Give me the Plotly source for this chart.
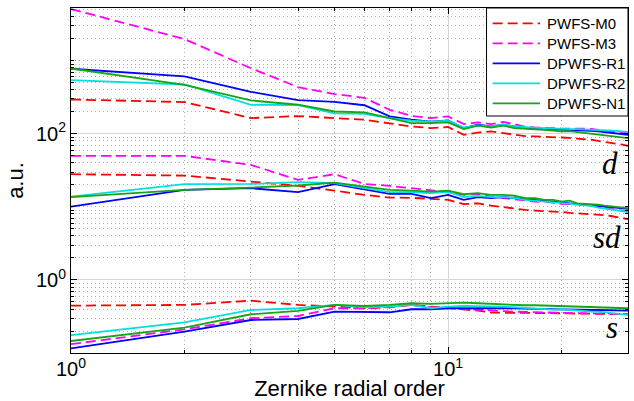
import plotly.graph_objects as go

orders = list(range(1, 31))

# ---- "d" group ----
m0_d = [295, 272, 164, 175, 164, 156, 139, 126, 120, 124, 97, 104, 108, 102, 99,
        93, 92, 91, 90, 90, 88, 86, 85, 83, 80, 78, 75, 73, 71, 68.5]
m3_d = [5100, 1980, 790, 436, 350, 311, 213, 176, 164, 173, 136, 143, 136, 145, 136,
        124, 122, 122, 120, 118, 117, 117, 116, 117, 113, 111, 108, 105, 104, 102]
r1_d = [777, 610, 376, 290, 274, 246, 173, 156, 147, 152, 120, 133, 126, 133, 126,
        120, 118, 117, 115, 113, 112, 112, 111, 110, 108, 106, 103, 101, 99, 97]
r2_d = [544, 473, 250, 247, 190, 188, 164, 151, 147, 151, 122, 130, 126, 133, 126,
        122, 121, 120, 118, 117, 116, 116, 115, 115, 113, 112, 111, 110, 108, 106]
n1_d = [784, 469, 286, 250, 202, 197, 164, 140, 140, 143, 116, 129, 122, 129, 120,
        116, 115, 113, 111, 108, 109, 106, 103, 101, 97, 95, 93, 91, 89, 87]

# ---- "sd" group ----
m0_sd = [28.0, 26.8, 22.2, 19.4, 16.7, 14.6, 13.4, 13.3, 12.9, 12.5, 10.9, 11.2, 10.4, 9.9, 9.4,
         9.1, 8.9, 8.8, 8.6, 8.5, 8.3, 8.2, 8.1, 8.0, 7.9, 7.7, 7.5, 7.2, 7.0, 6.8]
m3_sd = [49.9, 49.9, 37.6, 23.4, 28.0, 20.6, 19.4, 18.0, 16.7, 15.9, 14.6, 15.1, 13.8, 13.2, 12.8,
         12.2, 11.8, 11.8, 11.3, 11.0, 10.9, 10.9, 10.7, 10.4, 10.1, 9.8, 9.5, 9.2, 8.9, 8.6]
r1_sd = [10.1, 17.1, 18.0, 15.9, 20.5, 17.5, 15.1, 15.1, 13.2, 14.6, 12.5, 13.6, 13.2, 13.6, 13.2,
         12.8, 12.5, 12.2, 12.0, 11.5, 11.2, 11.0, 10.8, 10.6, 10.3, 10.1, 9.9, 9.7, 9.5, 9.4]
r2_sd = [13.8, 20.5, 20.6, 21.8, 21.1, 18.0, 15.9, 15.9, 15.4, 16.0, 13.6, 14.1, 13.6, 13.6, 13.2,
         12.5, 12.2, 11.8, 11.6, 11.2, 11.0, 10.8, 10.5, 10.3, 9.8, 9.5, 9.2, 8.9, 8.7, 8.5]
n1_sd = [13.6, 17.1, 18.4, 19.6, 21.5, 19.0, 17.1, 16.7, 16.2, 16.7, 14.9, 15.4, 14.6, 14.6, 14.2,
         13.2, 13.2, 12.5, 12.5, 11.8, 12.2, 11.2, 11.1, 11.0, 10.7, 10.4, 10.2, 10.0, 9.8, 9.6]

# ---- "s" group ----
m0_s = [0.445, 0.455, 0.52, 0.455, 0.431, 0.41, 0.423, 0.455, 0.431, 0.41, 0.401, 0.38, 0.357, 0.357, 0.356,
        0.356, 0.353, 0.353, 0.35, 0.35, 0.348, 0.346, 0.345, 0.342, 0.342, 0.341, 0.339, 0.339, 0.339, 0.339]
m3_s = [0.132, 0.211, 0.299, 0.321, 0.41, 0.41, 0.431, 0.455, 0.423, 0.41, 0.401, 0.388, 0.38, 0.373, 0.368,
        0.365, 0.361, 0.357, 0.353, 0.357, 0.353, 0.35, 0.35, 0.349, 0.349, 0.346, 0.345, 0.345, 0.342, 0.342]
r1_s = [0.116, 0.196, 0.283, 0.292, 0.368, 0.368, 0.361, 0.397, 0.397, 0.41, 0.41, 0.417, 0.414, 0.41, 0.41,
        0.405, 0.401, 0.401, 0.397, 0.397, 0.392, 0.392, 0.388, 0.388, 0.388, 0.385, 0.385, 0.38, 0.38, 0.38]
r2_s = [0.176, 0.263, 0.388, 0.41, 0.455, 0.423, 0.431, 0.455, 0.41, 0.431, 0.44, 0.44, 0.436, 0.431, 0.423,
        0.414, 0.405, 0.397, 0.392, 0.397, 0.388, 0.38, 0.373, 0.368, 0.368, 0.361, 0.353, 0.346, 0.339, 0.332]
n1_s = [0.146, 0.222, 0.339, 0.376, 0.455, 0.44, 0.455, 0.48, 0.469, 0.48, 0.489, 0.48, 0.469, 0.465, 0.455,
        0.45, 0.45, 0.445, 0.44, 0.44, 0.436, 0.431, 0.427, 0.423, 0.423, 0.417, 0.417, 0.414, 0.414, 0.41]

series_names = ["PWFS-M0", "PWFS-M3", "DPWFS-R1", "DPWFS-R2", "DPWFS-N1"]
groups = {
    "d": [m0_d, m3_d, r1_d, r2_d, n1_d],
    "sd": [m0_sd, m3_sd, r1_sd, r2_sd, n1_sd],
    "s": [m0_s, m3_s, r1_s, r2_s, n1_s],
}
group_labels = ["d", "sd", "s"]
x_major = [1, 10]
x_major_text = ["10<sup>0</sup>", "10<sup>1</sup>"]
y_major = [1, 100]
y_major_text = ["10<sup>0</sup>", "10<sup>2</sup>"]

colors = ["#ff0000", "#ff00ff", "#0000ff", "#00e0e0", "#16a516"]
dashes = ["10px,5px", "10px,5px", "solid", "solid", "solid"]

fig = go.Figure()
for gi, (gname, vals) in enumerate(groups.items()):
    for i, name in enumerate(series_names):
        fig.add_trace(go.Scatter(
            x=orders, y=vals[i], mode="lines", name=name,
            legendgroup=name, showlegend=False,
            line=dict(color=colors[i], width=1.8, dash=dashes[i]),
        ))

font_family = "Liberation Sans, Arial, sans-serif"

x_minor = [2, 3, 4, 5, 6, 7, 8, 9, 20, 30]
y_minor = ([k / 10 for k in range(2, 10)] + list(range(2, 10)) + [10] +
           list(range(20, 100, 10)) + list(range(200, 1000, 100)) + [1000, 2000, 3000, 4000, 5000])

axis_common = dict(
    type="log", showline=True, linecolor="black", linewidth=1, mirror="allticks",
    ticks="inside", ticklen=6, tickcolor="black", tickwidth=1,
    showgrid=True, gridcolor="#d6d6d6", gridwidth=1,
    tickfont=dict(family=font_family, size=20, color="black"),
    zeroline=False, automargin=True,
)

fig.update_xaxes(
    **axis_common,
    range=[0, 1.47712],
    tickmode="array", tickvals=x_major, ticktext=x_major_text,
    ticklabelstandoff=-2,
    minor=dict(tickmode="array", tickvals=x_minor, ticks="inside", ticklen=3,
               tickcolor="black", showgrid=True, gridcolor="#b0b0b0", griddash="1px,3px"),
    title=dict(text="Zernike radial order", font=dict(family=font_family, size=22, color="black"),
               standoff=3),
)
fig.update_yaxes(
    **axis_common,
    range=[-1.0, 3.722],
    tickmode="array", tickvals=y_major, ticktext=y_major_text,
    minor=dict(tickmode="array", tickvals=y_minor, ticks="inside", ticklen=3,
               tickcolor="black", showgrid=True, gridcolor="#b0b0b0", griddash="1px,3px"),
    title=dict(text="a.u.", font=dict(family=font_family, size=22, color="black"), standoff=6),
)

# group labels (italic serif letters at the right edge)
for txt, px, py in zip(group_labels, [0.967, 0.962, 0.972], [0.548, 0.334, 0.073]):
    fig.add_annotation(
        text="<i>%s</i>" % txt, xref="paper", yref="paper", x=px, y=py,
        xanchor="center", yanchor="middle", showarrow=False,
        font=dict(family="Liberation Serif, Times New Roman, serif", size=31, color="black"),
    )

# legend box drawn in paper coordinates (MATLAB-style long line samples)
leg_x0, leg_x1, leg_y0, leg_y1 = 0.746, 1.0, 0.687, 1.0
fig.add_shape(type="rect", xref="paper", yref="paper", x0=leg_x0, x1=leg_x1, y0=leg_y0, y1=leg_y1,
              line=dict(color="black", width=1), fillcolor="white", layer="above")
row_y = [0.9557, 0.8977, 0.8397, 0.7817, 0.7238]
for i, name in enumerate(series_names):
    fig.add_shape(type="line", xref="paper", yref="paper", x0=0.757, x1=0.842,
                  y0=row_y[i], y1=row_y[i], layer="above",
                  line=dict(color=colors[i], width=1.8, dash=dashes[i]))
    fig.add_annotation(text=name, xref="paper", yref="paper", x=0.851, y=row_y[i],
                       xanchor="left", yanchor="middle", showarrow=False,
                       font=dict(family=font_family, size=15, color="black"))

fig.update_layout(
    width=634, height=401,
    margin=dict(l=71, r=6, t=8, b=48, autoexpand=False),
    paper_bgcolor="white", plot_bgcolor="white",
    showlegend=False,
)

fig.write_html("out.html", config={"displayModeBar": False},
               post_script="document.body.style.margin='0px';")
